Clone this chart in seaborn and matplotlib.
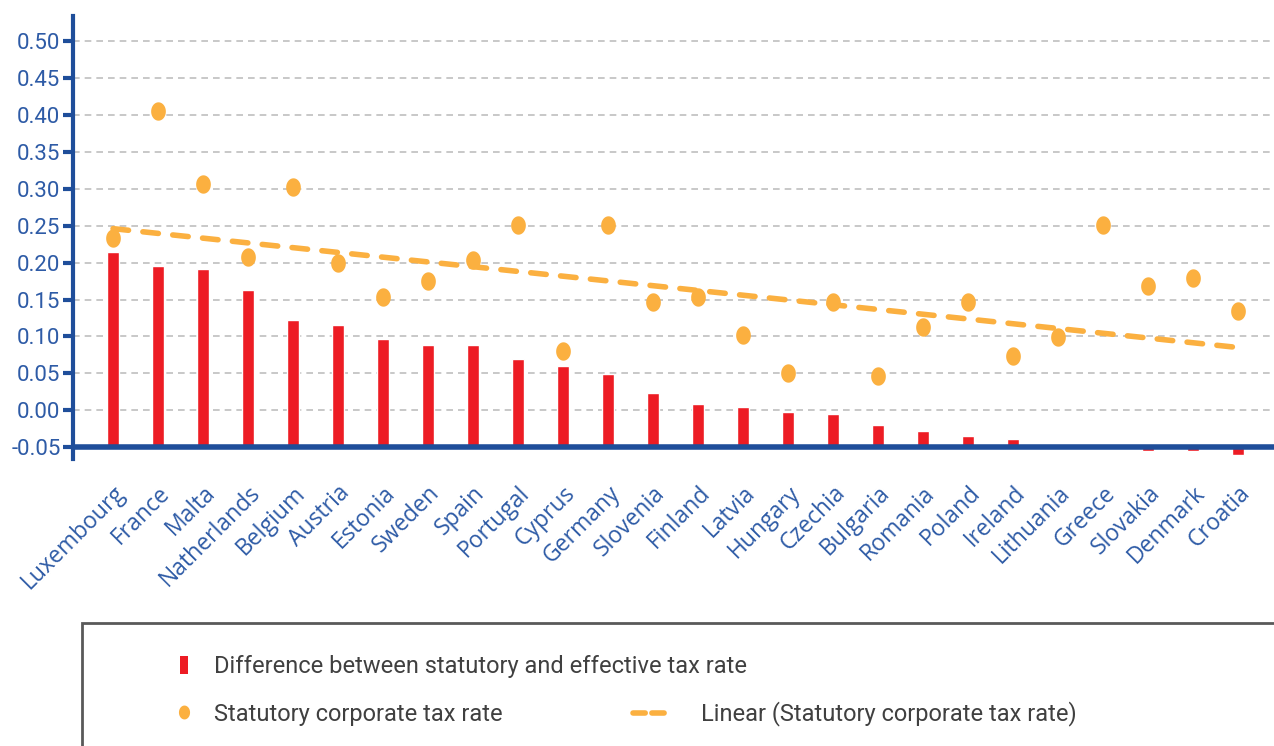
import numpy as np
import pandas as pd
import matplotlib

matplotlib.use("Agg")
import matplotlib.pyplot as plt
import seaborn as sns
from matplotlib.lines import Line2D
from matplotlib.markers import MarkerStyle
from matplotlib.patches import Patch, Rectangle
from matplotlib.path import Path

# Data
countries = [
    "Luxembourg", "France", "Malta", "Natherlands", "Belgium", "Austria",
    "Estonia", "Sweden", "Spain", "Portugal", "Cyprus", "Germany",
    "Slovenia", "Finland", "Latvia", "Hungary", "Czechia", "Bulgaria",
    "Romania", "Poland", "Ireland", "Lithuania", "Greece", "Slovakia",
    "Denmark", "Croatia",
]
tax_difference = [
    0.214, 0.195, 0.192, 0.163, 0.122, 0.115, 0.096, 0.089, 0.089, 0.070,
    0.060, 0.049, 0.023, 0.008, 0.005, -0.003, -0.005, -0.020, -0.028,
    -0.035, -0.039, -0.047, -0.050, -0.055, -0.055, -0.060,
]
statutory_rate = [
    0.234, 0.406, 0.306, 0.208, 0.302, 0.200, 0.153, 0.175, 0.203, 0.251,
    0.080, 0.251, 0.146, 0.153, 0.102, 0.051, 0.146, 0.047, 0.113, 0.146,
    0.073, 0.099, 0.251, 0.168, 0.179, 0.135,
]
# Excel linear trendline, value at the first and last country
trend_ends = [0.246, 0.085]
yticks = [-0.05, 0.00, 0.05, 0.10, 0.15, 0.20, 0.25, 0.30, 0.35, 0.40, 0.45, 0.50]
ytick_labels = ["-0.05", "0.00", "0.05", "0.10", "0.15", "0.20", "0.25",
                "0.30", "0.35", "0.40", "0.45", "0.50"]
axis_base = -0.05

RED = "#ED1C24"
ORANGE = "#FBB040"
BLUE = "#1F4E9A"
LABEL_BLUE = "#2E5BA6"
GRID = "#BFBFBF"

df = pd.DataFrame({
    "country": countries,
    "difference": tax_difference,
    "statutory": statutory_rate,
})
df["pos"] = np.arange(len(df))
trend = pd.DataFrame({"pos": [0, len(df) - 1], "value": trend_ends})

sns.set_style("white")
plt.rcParams["font.family"] = ["Roboto", "DejaVu Sans"]

fig = plt.figure(figsize=(12.74, 7.46), dpi=100)
ax = fig.add_axes([73 / 1274, 1 - 459 / 746, 1 - 73 / 1274, 443 / 746])

# bars (Excel draws them from the axis crossing at -0.05)
sns.barplot(data=df, x="country", y="difference", color=RED, width=0.27,
            saturation=1, ax=ax, zorder=3)
for p, v in zip(ax.patches, df["difference"]):
    p.set_y(axis_base)
    p.set_height(v - axis_base)

# slightly tall ellipse marker like in the reference
t = np.linspace(0, 2 * np.pi, 60)
ellipse = MarkerStyle(Path(np.column_stack([0.8 * np.cos(t), np.sin(t)]), closed=True))

sns.lineplot(data=trend, x="pos", y="value", color=ORANGE, linewidth=4,
             ax=ax, zorder=4)
ax.lines[-1].set_dashes((2.8, 2.6))
ax.lines[-1].set_dash_capstyle("round")
sns.scatterplot(data=df, x="pos", y="statutory", color=ORANGE, marker=ellipse,
                s=175, linewidth=0, ax=ax, zorder=5)

ax.set_xlim(-0.89, 25.8)
ax.set_ylim(-0.066, 0.534)
ax.set_yticks(yticks)
ax.set_yticklabels(ytick_labels)
ax.set_xticks(df["pos"])
ax.set_xticklabels(countries, rotation=45, ha="right", rotation_mode="anchor",
                   fontsize=16.5, color=LABEL_BLUE,
                   family=["Open Sans", "DejaVu Sans"])
ax.set_xlabel("")
ax.set_ylabel("")

for v in yticks[1:]:
    ax.axhline(v, color=GRID, linestyle=(0, (4, 3)), linewidth=1.2, zorder=1)
ax.axhline(axis_base, color=BLUE, linewidth=4, zorder=6)

for side in ["top", "right", "bottom"]:
    ax.spines[side].set_visible(False)
ax.spines["left"].set_color(BLUE)
ax.spines["left"].set_linewidth(3)
ax.tick_params(axis="y", direction="out", length=7, width=3, color=BLUE,
               labelcolor=LABEL_BLUE, labelsize=16, pad=2, left=True)
ax.tick_params(axis="x", length=0, pad=16)

# legend box at the bottom
fig.patches.append(Rectangle((82 / 1274, -0.05), 1.0, 0.2149, transform=fig.transFigure,
                             fill=False, edgecolor="#595959", linewidth=2))
leg_kw = dict(frameon=False, borderpad=0, borderaxespad=0, fontsize=17,
              labelcolor="#404040", loc="center left")
bar_handle = Patch(facecolor=RED, edgecolor="none")
fig.legend([bar_handle], ["Difference between statutory and effective tax rate"],
           bbox_to_anchor=(180 / 1274, 79 / 746), handlelength=0.35,
           handleheight=0.8, handletextpad=1.1, **leg_kw)
dot_handle = Line2D([], [], linestyle="none", marker=ellipse, markersize=10,
                    color=ORANGE, markeredgewidth=0)
fig.legend([dot_handle], ["Statutory corporate tax rate"],
           bbox_to_anchor=(180 / 1274, 32 / 746), handlelength=0.35,
           handletextpad=1.1, **leg_kw)
line_handle = Line2D([], [], color=ORANGE, linewidth=4, dashes=(2.2, 1.2),
                     dash_capstyle="round")
fig.legend([line_handle], ["Linear (Statutory corporate tax rate)"],
           bbox_to_anchor=(633 / 1274, 32 / 746), handlelength=1.4,
           handletextpad=1.5, **leg_kw)

fig.savefig("out.png", dpi=100)
